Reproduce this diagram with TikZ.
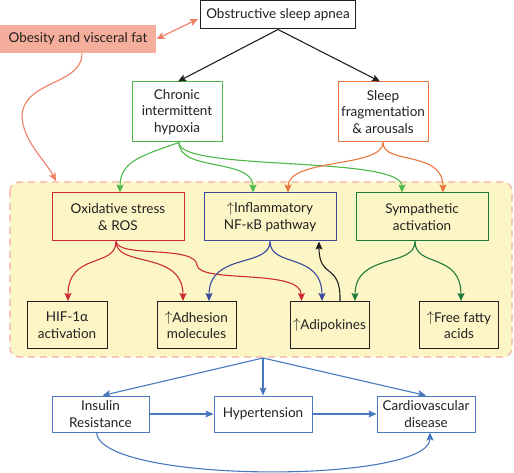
\documentclass[tikz,border=0pt]{standalone}
\usepackage{fontspec}
\setmainfont{Lato}
\usetikzlibrary{arrows.meta,calc}
\definecolor{salfill}{HTML}{F6AE9C}
\definecolor{salline}{HTML}{EE7E64}
\definecolor{dashc}{HTML}{F4B0A4}
\definecolor{ylw}{HTML}{FCF6C6}
\definecolor{grn}{HTML}{4DB848}
\definecolor{org}{HTML}{E8763E}
\definecolor{rd}{HTML}{CC2A36}
\definecolor{nav}{HTML}{3A4B9C}
\definecolor{dgrn}{HTML}{1E7A3A}
\definecolor{blu}{HTML}{4A78BE}
\definecolor{ink}{HTML}{231F20}
\tikzset{
  box/.style={draw, line width=1pt, align=center, inner sep=0pt, text=ink,
    font=\fontsize{13.5}{16.5}\selectfont},
  arr/.style={line width=1.1pt, -{Stealth[length=8pt,width=7pt,inset=1.5pt]}},
  darr/.style={line width=1.1pt, {Stealth[length=8pt,width=7pt,inset=1.5pt]}-{Stealth[length=8pt,width=7pt,inset=1.5pt]}},
}
\newcommand{\up}{\raisebox{0.1ex}{$\uparrow$}}
\begin{document}
\begin{tikzpicture}[x=1pt,y=-1pt]
\useasboundingbox (0,0) rectangle (514,473);
% background panel
\draw[dashc, fill=ylw, line width=1.3pt, dash pattern=on 7pt off 5pt, rounded corners=9pt]
  (10,182) rectangle (512,357);
% nodes
\node[box, draw=ink, fill=white, minimum width=155pt, minimum height=28pt] (osa) at (278,15) {Obstructive sleep apnea};
\node[box, draw=none, fill=salfill, minimum width=156pt, minimum height=28pt] (obes) at (78,39) {Obesity and visceral fat};
\node[box, draw=grn, fill=white, minimum width=90pt, minimum height=60pt] (chr) at (177,112) {Chronic\\intermittent\\hypoxia};
\node[box, draw=org, fill=white, minimum width=90pt, minimum height=60pt] (slp) at (383,112) {Sleep\\fragmentation\\\& arousals};
\node[box, draw=rd, fill=ylw, minimum width=132pt, minimum height=48pt] (ox) at (118,217) {Oxidative stress\\\& ROS};
\node[box, draw=nav, fill=ylw, minimum width=132pt, minimum height=48pt] (inf) at (270,217) {\up Inflammatory\\NF-κB pathway};
\node[box, draw=dgrn, fill=ylw, minimum width=132pt, minimum height=48pt] (sym) at (422,217) {Sympathetic\\activation};
\node[box, draw=ink, fill=ylw, minimum width=80pt, minimum height=47pt] (hif) at (67,325) {HIF-1α\\activation};
\node[box, draw=ink, fill=ylw, minimum width=79pt, minimum height=47pt] (adh) at (196.5,325) {\up Adhesion\\molecules};
\node[box, draw=ink, fill=ylw, minimum width=79pt, minimum height=47pt] (adi) at (329.5,325) {\up Adipokines};
\node[box, draw=ink, fill=ylw, minimum width=79pt, minimum height=47pt] (ffa) at (459,325) {\up Free fatty\\acids};
\node[box, draw=blu, fill=white, minimum width=97pt, minimum height=36pt] (ins) at (100.5,414) {Insulin\\Resistance};
\node[box, draw=blu, fill=white, minimum width=98pt, minimum height=36pt] (hyp) at (263,414) {Hypertension};
\node[box, draw=blu, fill=white, minimum width=98pt, minimum height=36pt] (cvd) at (426,414) {Cardiovascular\\disease};
\coordinate (obtip) at (56,181);
\coordinate (bgb) at (263,358);
% top arrows
\draw[arr, ink] (osa.south) -- ($(chr.north)+(1,0)$);
\draw[arr, ink] (osa.south) -- ($(slp.north)+(-3,0)$);
\draw[darr, salline] (obes.east) -- ($(osa.west)+(-2,4)$);
\draw[arr, salline] ($(obes.south)+(4,0)$) .. controls (82,85) and (25,80) .. (22,115) .. controls (22,140) and (45,160) .. (obtip);
% green from chronic
\draw[arr, grn] ($(chr.south)+(2,0)$) .. controls (140,156) and (120,162) .. ($(ox.north)+(2,0)$);
\draw[arr, grn] ($(chr.south)+(2,0)$) .. controls (179,172) and (253,158) .. ($(inf.north)+(-17,0)$);
\draw[arr, grn] ($(chr.south)+(2,0)$) .. controls (179,172) and (402,155) .. ($(sym.north)+(-20,0)$);
% orange from sleep
\draw[arr, org] (slp.south) .. controls (383,168) and (288,158) .. ($(inf.north)+(18,0)$);
\draw[arr, org] (slp.south) .. controls (383,165) and (443,150) .. ($(sym.north)+(21,0)$);
% red from oxidative
\draw[arr, rd] ($(ox.south)+(-2,0)$) .. controls (116,268) and (68,252) .. ($(hif.north)+(1,0)$);
\draw[arr, rd] ($(ox.south)+(-2,0)$) .. controls (116,268) and (183,250) .. ($(adh.north)+(-13.5,0)$);
\draw[arr, rd] ($(ox.south)+(-2,0)$) .. controls (118,258) and (195,245) .. (197,265) .. controls (199,284) and (301,268) .. ($(adi.north)+(-28,0)$);
% blue from inflammatory
\draw[arr, nav] (inf.south) .. controls (270,268) and (209,252) .. ($(adh.north)+(12.5,0)$);
\draw[arr, nav] (inf.south) .. controls (270,268) and (322,252) .. ($(adi.north)+(-7.5,0)$);
% black adipokines to inflammatory
\draw[arr, ink] ($(adi.north)+(10.5,0)$) .. controls (341,262) and (319,280) .. ($(inf.south)+(49,0)$);
% dark green from sympathetic
\draw[arr, dgrn] ($(sym.south)+(-7,0)$) .. controls (415,268) and (355,252) .. ($(adi.north)+(25.5,0)$);
\draw[arr, dgrn] ($(sym.south)+(-7,0)$) .. controls (415,268) and (461,252) .. ($(ffa.north)+(2,0)$);
% bottom
\draw[arr, blu] (bgb) -- ($(ins.north)+(2,0)$);
\draw[arr, blu] (bgb) -- (hyp.north);
\draw[arr, blu] (bgb) -- ($(cvd.north)+(0,0)$);
\draw[arr, blu] (ins.east) -- (hyp.west);
\draw[arr, blu] (hyp.east) -- (cvd.west);
\draw[arr, blu] ($(ins.south)+(-4,0)$) .. controls (100,484) and (430,484) .. ($(cvd.south)+(4,0)$);
\end{tikzpicture}
\end{document}
